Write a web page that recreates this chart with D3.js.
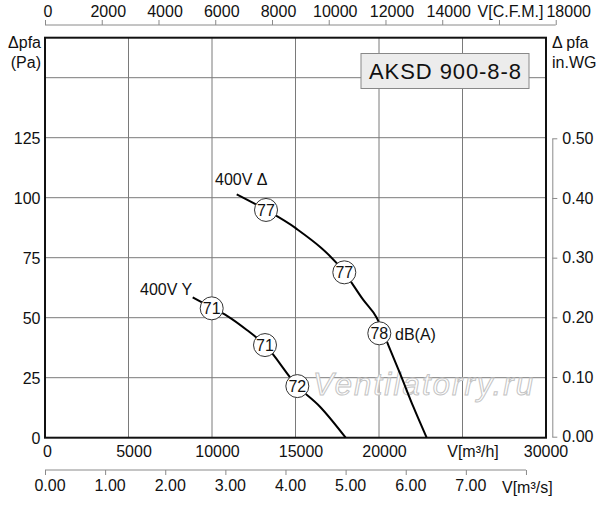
<!DOCTYPE html>
<html>
<head>
<meta charset="utf-8">
<script src="https://cdn.jsdelivr.net/npm/d3@7"></script>
<style>
  body { margin: 0; background: #fff; }
  svg text { font-family: "Liberation Sans", Arial, Helvetica, sans-serif; fill: #111; }
</style>
</head>
<body>
<div id="chart"></div>
<script>
// Fan curve AKSD 900-8-8, drawn with D3

const width = 600;
const height = 505;
const margin = {left: 45, right: 54, top: 37.7, bottom: 67.3};

// Curve points: [airflow m3/h, pressure Pa]
const deltaCurve = [[11480, 101.4], [13234, 94.9], [15010, 87.3], [17922, 68.9],
  [19060, 57.4], [19862, 50.0], [20557, 38.6], [21257, 26.8], [22054, 12.9], [22856, 0]];
const starCurve = [[8844, 58.5], [9982, 54.2], [10900, 50.8], [12086, 44.9],
  [13174, 38.6], [15110, 21.5], [16467, 12.9], [18004, 0]];

// Sound level markers: [airflow m3/h, pressure Pa, dB(A)]
const deltaMarks = [[13234, 94.9, "77"], [17922, 68.9, "77"], [20018, 43.5, "78"]];
const starMarks = [[9982, 53.9, "71"], [13174, 38.6, "71"], [15110, 21.5, "72"]];

// Tick labels
const flowTicks = [0, 5000, 10000, 15000, 20000, 30000];
const flowGrid = [5000, 10000, 15000, 20000, 25000];
const paTicks = [0, 25, 50, 75, 100, 125];
const paGrid = [25, 50, 75, 100, 125, 150];
const cfmTicks = [0, 2000, 4000, 6000, 8000, 10000, 12000, 14000, 16000, 18000];
const m3sTicks = [0, 1, 2, 3, 4, 5, 6, 7, 8];
const wgTicks = [0, 0.1, 0.2, 0.3, 0.4, 0.5];

const svg = d3.select("#chart")
  .append("svg")
  .attr("width", width)
  .attr("height", height);

const x0 = margin.left, x1 = width - margin.right;
const y0 = height - margin.bottom, y1 = margin.top;

// main scales
const xScale = d3.scaleLinear().domain([0, 30000]).range([x0, x1]);
const yScale = d3.scaleLinear().domain([0, 500 / 3]).range([y0, y1]);

// secondary scales
const cfmScale = d3.scaleLinear().domain([0, 30000 * 0.58858]).range([x0, x1]);
const m3sScale = d3.scaleLinear().domain([0, 30000 / 3600]).range([x0, x1]);
const wgScale = d3.scaleLinear().domain([0, 0.5]).range([y0 - 1, yScale(125) + 0.6]);

/* Grid */
svg.append("g")
  .selectAll("line")
  .data(flowGrid)
  .join("line")
  .attr("x1", d => xScale(d)).attr("x2", d => xScale(d))
  .attr("y1", y1).attr("y2", y0)
  .attr("stroke", "#7a7a7a").attr("stroke-width", 1);

svg.append("g")
  .selectAll("line")
  .data(paGrid)
  .join("line")
  .attr("x1", x0).attr("x2", x1)
  .attr("y1", d => yScale(d)).attr("y2", d => yScale(d))
  .attr("stroke", "#7a7a7a").attr("stroke-width", 1);

// frame
svg.append("rect")
  .attr("x", x0).attr("y", y1)
  .attr("width", x1 - x0).attr("height", y0 - y1)
  .attr("fill", "none").attr("stroke", "#111").attr("stroke-width", 2);

/* Title box */
svg.append("rect")
  .attr("x", 361).attr("y", 53.5)
  .attr("width", 168).attr("height", 35)
  .attr("fill", "#ececec").attr("stroke", "#888").attr("stroke-width", 1);
svg.append("text")
  .attr("x", 445).attr("y", 79)
  .attr("text-anchor", "middle")
  .attr("font-size", "22px")
  .attr("textLength", 152)
  .text("AKSD 900-8-8");

/* Watermark */
svg.append("text")
  .attr("x", 313).attr("y", 395)
  .attr("font-size", "31px")
  .attr("font-style", "italic")
  .attr("textLength", 220)
  .style("fill", "#fff")
  .attr("stroke", "#c4c4c4").attr("stroke-width", 1)
  .text("Ventilatorry.ru");

/* Axes */
const fontSize = "16px";

// left Pa labels
svg.append("g")
  .selectAll("text")
  .data(paTicks)
  .join("text")
  .attr("x", 40.5)
  .attr("y", d => yScale(d) + 6)
  .attr("text-anchor", "end")
  .attr("font-size", fontSize)
  .text(d => d);

svg.append("text").attr("x", 41).attr("y", 47.5).attr("text-anchor", "end")
  .attr("font-size", fontSize).text("\u0394pfa");
svg.append("text").attr("x", 41).attr("y", 67.5).attr("text-anchor", "end")
  .attr("font-size", fontSize).text("(Pa)");

// bottom m3/h labels
svg.append("g")
  .selectAll("text")
  .data(flowTicks)
  .join("text")
  .attr("x", d => xScale(d) + (d === 30000 ? 0 : d === 0 ? 2.5 : 5.5))
  .attr("y", 456.5)
  .attr("text-anchor", "middle")
  .attr("font-size", fontSize)
  .text(d => d);
svg.append("text").attr("x", 473).attr("y", 456.5).attr("text-anchor", "middle")
  .attr("font-size", fontSize).text("V[m\u00b3/h]");

// top CFM axis
const cfmAxis = svg.append("g")
  .attr("transform", "translate(0,25)")
  .call(d3.axisTop(cfmScale).tickValues(cfmTicks).tickSize(5).tickSizeOuter(0)
    .tickFormat(d => d === 16000 ? "V[C.F.M.]" : d));
cfmAxis.select(".domain").remove();
cfmAxis.append("line")
  .attr("x1", cfmScale(0)).attr("x2", cfmScale(18000))
  .attr("stroke", "#8a8a8a");
cfmAxis.selectAll(".tick line").attr("stroke", "#8a8a8a");
cfmAxis.selectAll(".tick text")
  .attr("font-size", fontSize)
  .attr("y", -8)
  .attr("dx", d => d === 0 ? 2.5 : d === 16000 ? 11 : d === 18000 ? 12.5 : 6);

// bottom m3/s axis
const m3sAxis = svg.append("g")
  .attr("transform", "translate(0,470)")
  .call(d3.axisBottom(m3sScale).tickValues(m3sTicks).tickSize(5).tickSizeOuter(0)
    .tickFormat(d => d === 8 ? "" : d3.format(".2f")(d)));
m3sAxis.select(".domain").remove();
m3sAxis.append("line")
  .attr("x1", m3sScale(0)).attr("x2", m3sScale(8))
  .attr("stroke", "#8a8a8a");
m3sAxis.selectAll(".tick line").attr("stroke", "#8a8a8a");
m3sAxis.selectAll(".tick text")
  .attr("font-size", fontSize)
  .attr("y", 10)
  .attr("dx", 4.5);
svg.append("text").attr("x", 502).attr("y", 493).attr("font-size", fontSize)
  .text("V[m\u00b3/s]");

// right in.WG axis
const wgAxis = svg.append("g")
  .attr("transform", "translate(552.3,0)")
  .call(d3.axisRight(wgScale).tickValues(wgTicks).tickSize(5).tickSizeOuter(0)
    .tickFormat(d3.format(".2f")));
wgAxis.select(".domain").attr("stroke", "#8a8a8a");
wgAxis.selectAll(".tick line").attr("stroke", "#8a8a8a");
wgAxis.selectAll(".tick text")
  .attr("font-size", fontSize)
  .attr("x", 10);

svg.append("text").attr("x", 552).attr("y", 47.5).attr("font-size", fontSize)
  .text("\u0394 pfa");
svg.append("text").attr("x", 552).attr("y", 67.5).attr("font-size", fontSize)
  .text("in.WG");

/* Curves */
const line = d3.line()
  .x(d => xScale(d[0]))
  .y(d => yScale(d[1]))
  .curve(d3.curveMonotoneX);

[deltaCurve, starCurve].forEach(c => {
  svg.append("path")
    .datum(c)
    .attr("d", line)
    .attr("fill", "none")
    .attr("stroke", "#000")
    .attr("stroke-width", 2);
});

// sound level markers
const marks = svg.append("g");
[...deltaMarks, ...starMarks].forEach(m => {
  const g = marks.append("g")
    .attr("transform", `translate(${xScale(m[0])},${yScale(m[1])})`);
  g.append("circle")
    .attr("r", 11.5)
    .attr("fill", "#fff")
    .attr("stroke", "#333")
    .attr("stroke-width", 1);
  g.append("text")
    .attr("text-anchor", "middle")
    .attr("y", 6)
    .attr("font-size", fontSize)
    .text(m[2]);
});

/* Curve labels */
svg.append("text").attr("x", 215).attr("y", 185).attr("font-size", fontSize)
  .text("400V \u0394");
svg.append("text").attr("x", 140).attr("y", 295).attr("font-size", fontSize)
  .text("400V Y");
svg.append("text").attr("x", 395).attr("y", 340).attr("font-size", fontSize)
  .text("dB(A)");
</script>
</body>
</html>
